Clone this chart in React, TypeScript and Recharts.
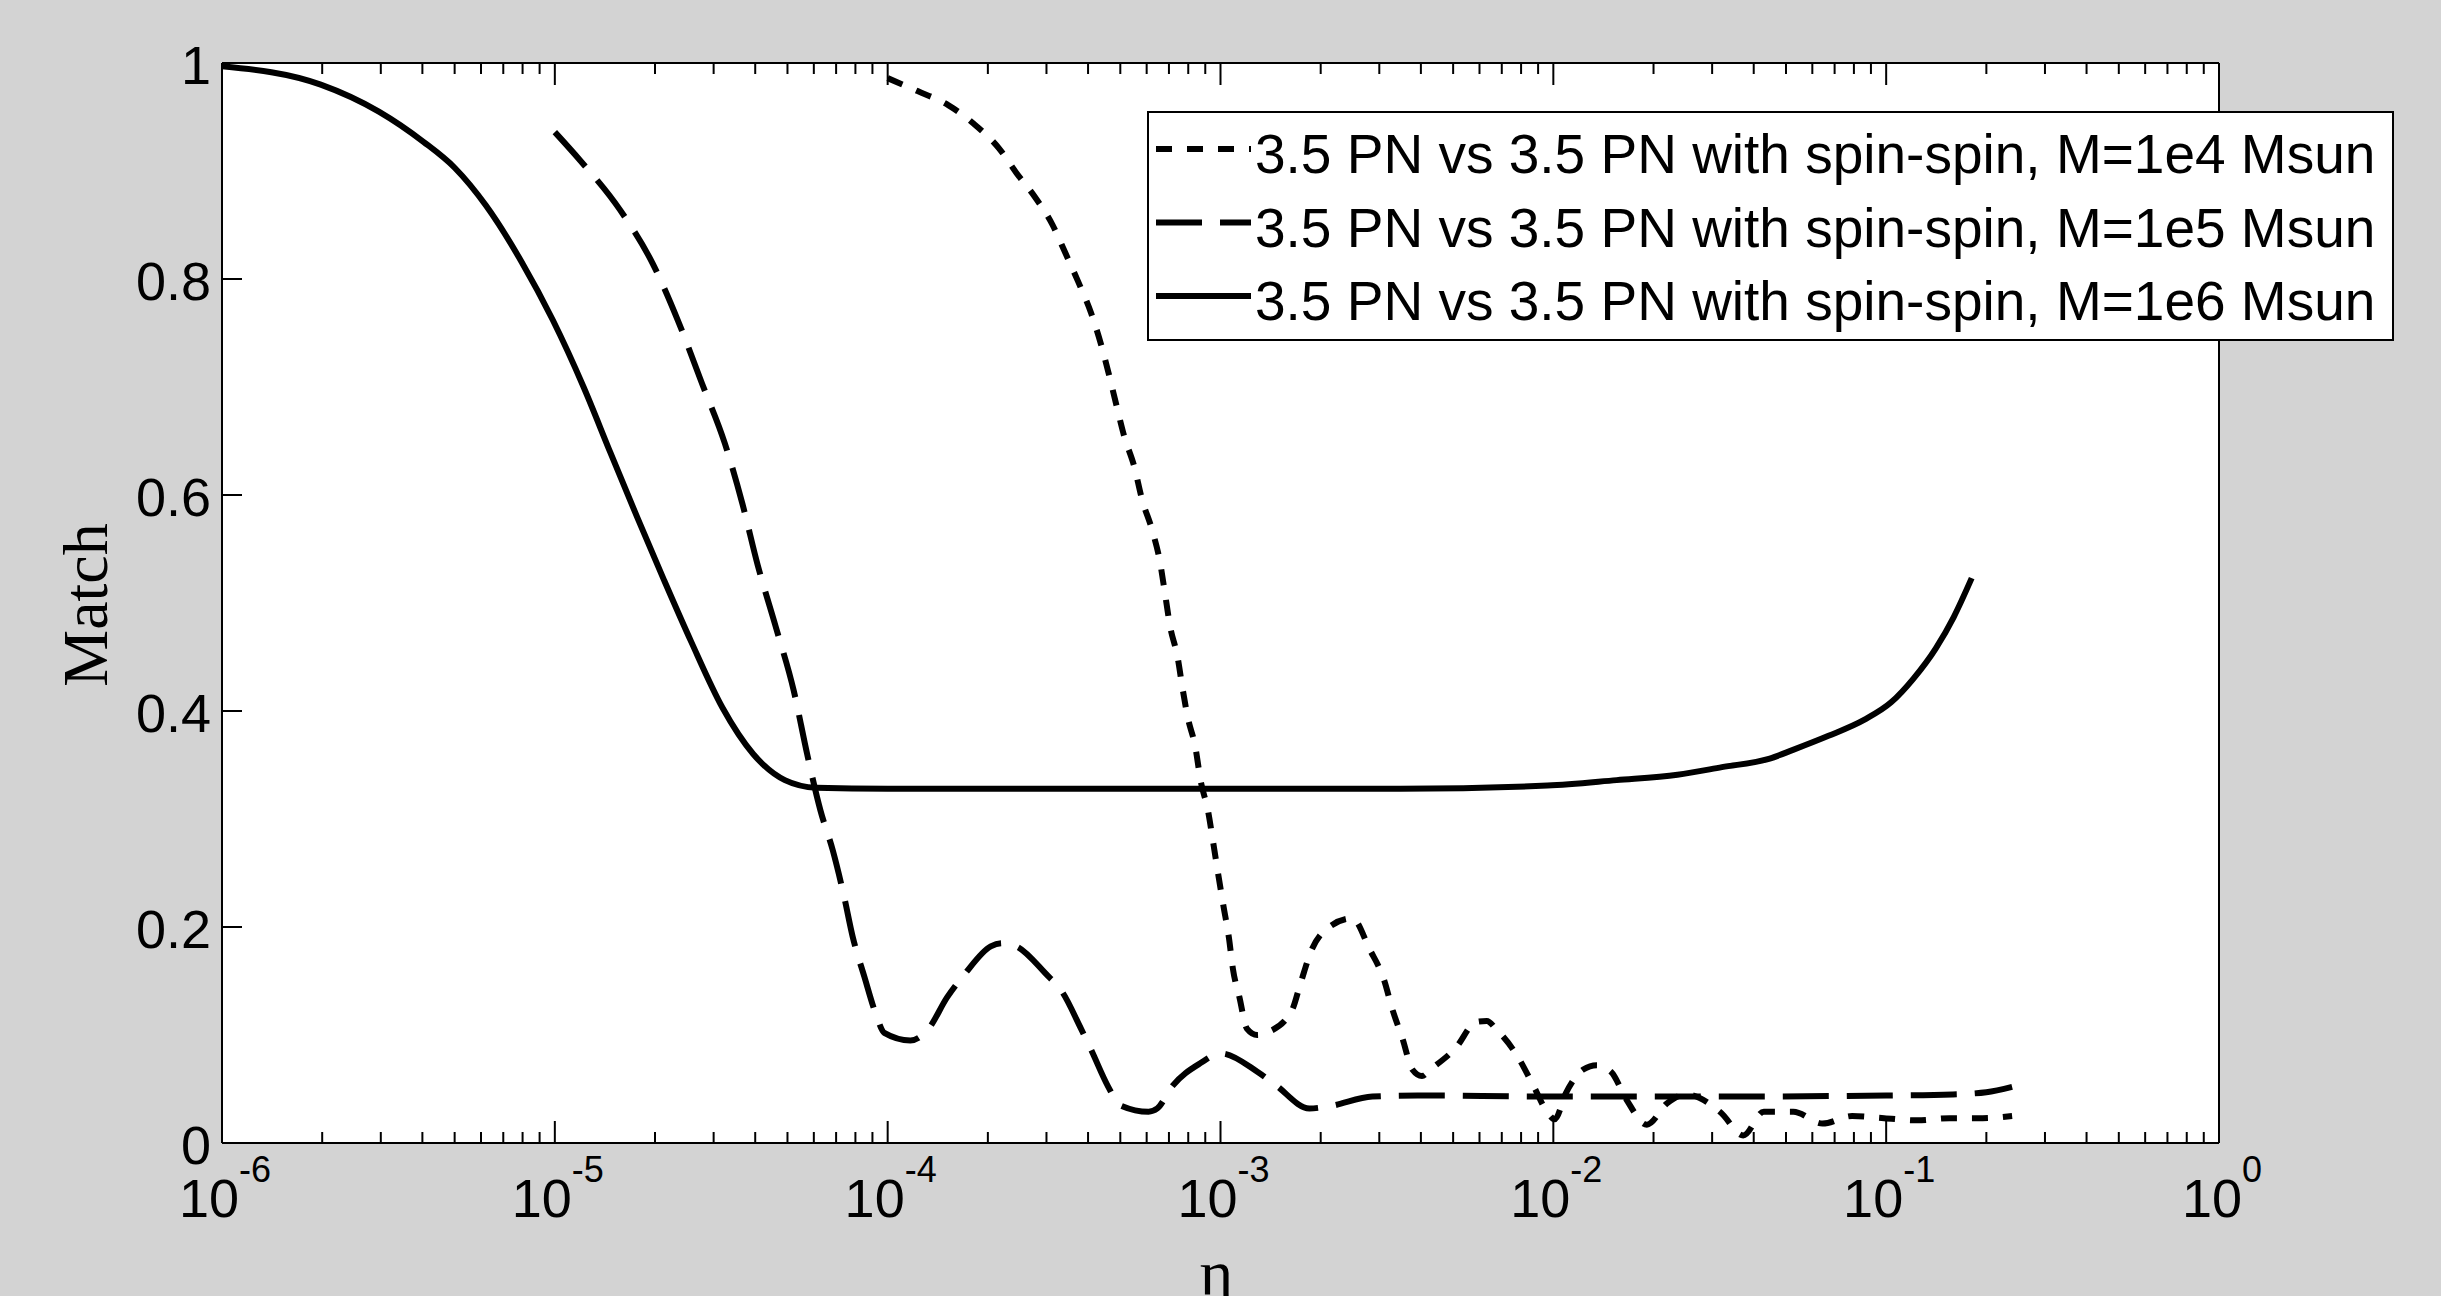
import { LineChart, Line, XAxis, YAxis, CartesianGrid, Legend, Label } from 'recharts';

// M = 1e6 Msun (solid)
const eta1e6 = [
  1.0e-6, 1.98e-6, 2.96e-6, 4.03e-6, 5.0e-6, 6.21e-6, 7.94e-6, 9.86e-6, 1.22e-5, 1.47e-5,
  1.77e-5, 2.13e-5, 2.57e-5, 3.19e-5, 3.95e-5, 4.91e-5, 6.1e-5, 1.0e-4, 3.16e-4, 1.0e-3,
  3.47e-3, 9.6e-3, 1.55e-2, 2.36e-2, 3.21e-2, 4.47e-2, 5.25e-2, 6.71e-2, 8.61e-2, 0.1035,
  0.1208, 0.141, 0.1596, 0.1807,
];
const match1e6 = [
  0.997, 0.98, 0.955, 0.927, 0.903, 0.868, 0.816, 0.762, 0.7, 0.639,
  0.579, 0.521, 0.464, 0.403, 0.36, 0.336, 0.329, 0.328, 0.328, 0.328,
  0.328, 0.331, 0.336, 0.341, 0.348, 0.356, 0.364, 0.377, 0.392, 0.408,
  0.43, 0.458, 0.487, 0.523,
];

// M = 1e5 Msun (dashed)
const eta1e5 = [
  1.0e-5, 1.19e-5, 1.57e-5, 1.97e-5, 2.34e-5, 2.77e-5, 3.24e-5, 3.66e-5, 4.07e-5, 4.61e-5,
  5.22e-5, 5.73e-5, 6.28e-5, 6.84e-5, 7.4e-5, 7.85e-5, 8.51e-5, 9.2e-5, 9.77e-5, 1.17e-4,
  1.32e-4, 1.51e-4, 1.71e-4, 2.04e-4, 2.21e-4, 2.44e-4, 2.98e-4, 3.36e-4, 3.78e-4, 4.09e-4,
  4.6e-4, 4.99e-4, 6.08e-4, 6.46e-4, 7.14e-4, 8.71e-4, 1.0e-3, 1.29e-3, 1.46e-3, 1.85e-3,
  2.12e-3, 2.86e-3, 3.91e-3, 1.0e-2, 3.16e-2, 0.1, 0.158, 0.2, 0.239,
];
const match1e5 = [
  0.936, 0.91, 0.864, 0.814, 0.762, 0.703, 0.648, 0.592, 0.535, 0.478,
  0.419, 0.36, 0.308, 0.271, 0.228, 0.191, 0.154, 0.12, 0.102, 0.095,
  0.105, 0.135, 0.157, 0.182, 0.185, 0.182, 0.157, 0.139, 0.108, 0.086,
  0.052, 0.035, 0.029, 0.032, 0.052, 0.074, 0.083, 0.066, 0.054, 0.032,
  0.034, 0.043, 0.044, 0.043, 0.043, 0.044, 0.045, 0.047, 0.052,
];

// M = 1e4 Msun (dotted)
const eta1e4 = [
  1.0e-4, 1.23e-4, 1.52e-4, 1.81e-4, 2.16e-4, 2.44e-4, 2.77e-4, 3.13e-4, 3.42e-4, 3.73e-4,
  4.08e-4, 4.38e-4, 4.61e-4, 4.86e-4, 5.13e-4, 5.51e-4, 5.81e-4, 6.24e-4, 6.58e-4, 6.81e-4,
  7.05e-4, 7.43e-4, 7.69e-4, 7.96e-4, 8.41e-4, 8.71e-4, 9.18e-4, 9.51e-4, 9.84e-4, 1.02e-3,
  1.06e-3, 1.09e-3, 1.14e-3, 1.2e-3, 1.29e-3, 1.4e-3, 1.64e-3, 1.74e-3, 1.88e-3, 2.12e-3,
  2.49e-3, 2.81e-3, 3.1e-3, 3.29e-3, 3.52e-3, 3.77e-3, 4.03e-3, 4.27e-3, 5.09e-3, 5.86e-3,
  6.31e-3, 6.75e-3, 7.78e-3, 8.65e-3, 9.62e-3, 1.01e-2, 1.09e-2, 1.23e-2, 1.35e-2, 1.49e-2,
  1.66e-2, 1.91e-2, 2.2e-2, 2.5e-2, 3.19e-2, 3.72e-2, 4.29e-2, 5.26e-2, 6.44e-2, 7.9e-2,
  9.86e-2, 0.124, 0.155, 0.195, 0.239,
];
const match1e4 = [
  0.986, 0.974, 0.961, 0.944, 0.921, 0.898, 0.876, 0.85, 0.824, 0.798,
  0.769, 0.739, 0.713, 0.684, 0.655, 0.626, 0.596, 0.567, 0.538, 0.509,
  0.479, 0.45, 0.421, 0.395, 0.366, 0.336, 0.307, 0.278, 0.249, 0.22,
  0.19, 0.161, 0.135, 0.106, 0.1, 0.103, 0.123, 0.148, 0.179, 0.2,
  0.208, 0.179, 0.151, 0.123, 0.097, 0.068, 0.062, 0.068, 0.088, 0.112,
  0.113, 0.105, 0.081, 0.055, 0.028, 0.022, 0.046, 0.068, 0.072, 0.066,
  0.04, 0.017, 0.037, 0.045, 0.028, 0.007, 0.029, 0.029, 0.018, 0.025,
  0.023, 0.021, 0.023, 0.023, 0.025,
];

const xTicks = [
  1e-6, 2e-6, 3e-6, 4e-6, 5e-6, 6e-6, 7e-6, 8e-6, 9e-6,
  1e-5, 2e-5, 3e-5, 4e-5, 5e-5, 6e-5, 7e-5, 8e-5, 9e-5,
  1e-4, 2e-4, 3e-4, 4e-4, 5e-4, 6e-4, 7e-4, 8e-4, 9e-4,
  1e-3, 2e-3, 3e-3, 4e-3, 5e-3, 6e-3, 7e-3, 8e-3, 9e-3,
  1e-2, 2e-2, 3e-2, 4e-2, 5e-2, 6e-2, 7e-2, 8e-2, 9e-2,
  1e-1, 2e-1, 3e-1, 4e-1, 5e-1, 6e-1, 7e-1, 8e-1, 9e-1,
  1,
];
const yTicks = [0, 0.2, 0.4, 0.6, 0.8, 1];

const zip = (xs: number[], ys: number[]) => xs.map((eta, i) => ({ eta, match: ys[i] }));

const series = [
  { name: '3.5 PN vs 3.5 PN with spin-spin, M=1e4 Msun', data: zip(eta1e4, match1e4), dash: '16 15' },
  { name: '3.5 PN vs 3.5 PN with spin-spin, M=1e5 Msun', data: zip(eta1e5, match1e5), dash: '46 18' },
  { name: '3.5 PN vs 3.5 PN with spin-spin, M=1e6 Msun', data: zip(eta1e6, match1e6), dash: undefined },
];

const SANS = '"Liberation Sans", Arial, Helvetica, sans-serif';
const SERIF = '"Liberation Serif", "Times New Roman", serif';
const LINE_W = 6;

const isDecade = (v: number) => Math.abs(Math.log10(v) - Math.round(Math.log10(v))) < 1e-6;

function BottomTick({ x, y, payload }: any) {
  const major = isDecade(payload.value);
  const exp = Math.round(Math.log10(payload.value));
  return (
    <g>
      <line x1={x} y1={y} x2={x} y2={y - (major ? 22 : 11)} stroke="#000" strokeWidth={2} />
      {major && (
        <text x={x + 3} y={y + 74} textAnchor="middle" fontFamily={SANS} fontSize={54} fill="#000">
          10
          <tspan dy={-35} fontSize={36}>{String(exp)}</tspan>
        </text>
      )}
    </g>
  );
}

function TopTick({ x, y, payload }: any) {
  const major = isDecade(payload.value);
  return <line x1={x} y1={y} x2={x} y2={y + (major ? 22 : 11)} stroke="#000" strokeWidth={2} />;
}

function LeftTick({ x, y, payload }: any) {
  const v = payload.value;
  const txt = v === 0 || v === 1 ? String(v) : v.toFixed(1);
  return (
    <g>
      <line x1={x} y1={y} x2={x + 20} y2={y} stroke="#000" strokeWidth={2} />
      <text x={x - 11} y={y} dy={21} textAnchor="end" fontFamily={SANS} fontSize={54} fill="#000">
        {txt}
      </text>
    </g>
  );
}

function RightTick({ x, y }: any) {
  return <line x1={x} y1={y} x2={x - 20} y2={y} stroke="#000" strokeWidth={2} />;
}

function renderLegend() {
  const rowBase = [62, 135.5, 209];
  return (
    <svg width={1247} height={230} style={{ display: 'block' }}>
      <rect x={1} y={1} width={1245} height={228} fill="#fff" stroke="#000" strokeWidth={2} />
      {series.map((s, i) => (
        <g key={s.name}>
          <line
            x1={9}
            x2={104}
            y1={rowBase[i] - 24}
            y2={rowBase[i] - 24}
            stroke="#000"
            strokeWidth={LINE_W}
            strokeDasharray={s.dash}
          />
          <text x={108} y={rowBase[i]} fontFamily={SANS} fontSize={55} fill="#000">
            {s.name}
          </text>
        </g>
      ))}
    </svg>
  );
}

export default function App() {
  return (
    <div style={{ position: 'absolute', left: 0, top: 0, width: 2441, height: 1296, background: '#d3d3d3' }}>
      <LineChart width={2441} height={1296} margin={{ top: 0, right: 0, bottom: 0, left: 0 }}>
        <CartesianGrid fill="#fff" horizontal={false} vertical={false} />
        <XAxis
          dataKey="eta"
          type="number"
          scale="log"
          domain={[1e-6, 1]}
          ticks={xTicks}
          interval={0}
          allowDataOverflow
          height={153}
          tickSize={0}
          tickMargin={0}
          tickLine={false}
          tick={<BottomTick />}
          axisLine={{ stroke: '#000', strokeWidth: 2 }}
        >
          <Label
            content={({ viewBox }: any) => (
              <text
                x={viewBox.x + viewBox.width / 2 - 4}
                y={viewBox.y + viewBox.height - 2}
                textAnchor="middle"
                fontFamily={SERIF}
                fontSize={64}
                fill="#000"
              >
                η
              </text>
            )}
          />
        </XAxis>
        <XAxis
          xAxisId="top"
          orientation="top"
          dataKey="eta"
          type="number"
          scale="log"
          domain={[1e-6, 1]}
          ticks={xTicks}
          interval={0}
          allowDataOverflow
          height={63}
          tickSize={0}
          tickMargin={0}
          tickLine={false}
          tick={<TopTick />}
          axisLine={{ stroke: '#000', strokeWidth: 2 }}
        />
        <YAxis
          type="number"
          domain={[0, 1]}
          ticks={yTicks}
          interval={0}
          width={222}
          tickSize={0}
          tickMargin={0}
          tickLine={false}
          tick={<LeftTick />}
          axisLine={{ stroke: '#000', strokeWidth: 2 }}
        >
          <Label
            content={({ viewBox }: any) => {
              const cx = viewBox.x + 107;
              const cy = viewBox.y + viewBox.height / 2 + 2;
              return (
                <text
                  x={cx}
                  y={cy}
                  transform={`rotate(-90, ${cx}, ${cy})`}
                  textAnchor="middle"
                  fontFamily={SERIF}
                  fontSize={64}
                  fill="#000"
                >
                  Match
                </text>
              );
            }}
          />
        </YAxis>
        <YAxis
          yAxisId="right"
          orientation="right"
          type="number"
          domain={[0, 1]}
          ticks={yTicks}
          interval={0}
          width={222}
          tickSize={0}
          tickMargin={0}
          tickLine={false}
          tick={<RightTick />}
          axisLine={{ stroke: '#000', strokeWidth: 2 }}
        />
        {series.map((s) => (
          <Line
            key={s.name}
            data={s.data}
            dataKey="match"
            name={s.name}
            type="monotone"
            stroke="#000"
            strokeWidth={LINE_W}
            strokeDasharray={s.dash}
            dot={false}
            activeDot={false}
            isAnimationActive={false}
          />
        ))}
        <Legend
          layout="vertical"
          align="center"
          verticalAlign="middle"
          content={renderLegend}
          wrapperStyle={{ left: 1147, top: 111, width: 1247, height: 230 }}
        />
      </LineChart>
    </div>
  );
}
